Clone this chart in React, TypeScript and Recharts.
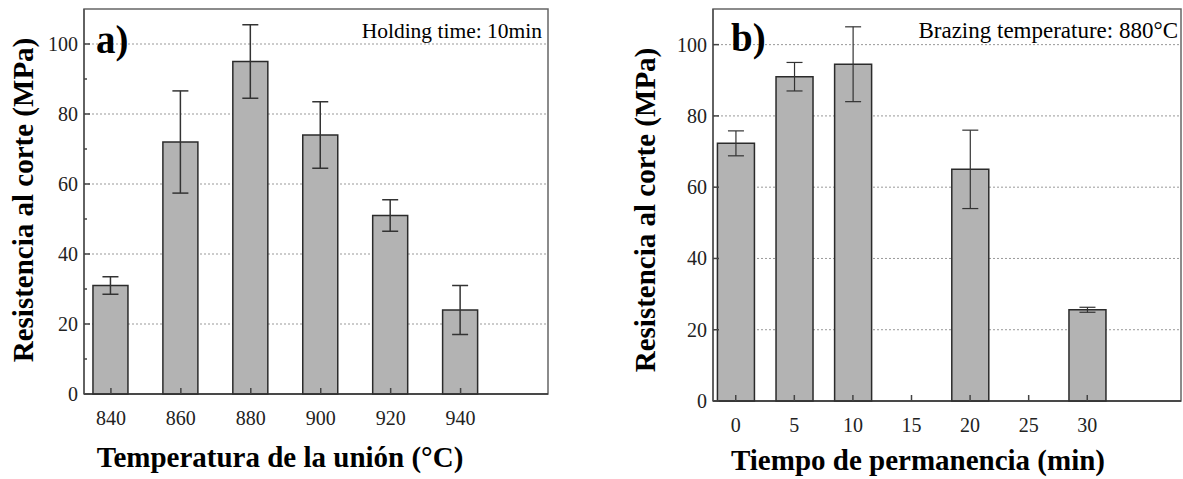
import { BarChart, Bar, XAxis, YAxis, CartesianGrid, ErrorBar, ReferenceArea } from "recharts";

// a) joint temperature
const tempCategories = [840, 860, 880, 900, 920, 940];
const tempStrength = [31, 72, 95, 74, 51, 24];
const tempError = [2.5, 14.6, 10.5, 9.5, 4.5, 7];

// b) holding time
const timeCategories = [0, 5, 10, 20, 30];
const timeStrength = [72.3, 91, 94.5, 65, 25.6];
const timeError = [3.5, 4, 10.5, 11, 0.7];

const tempTicks = [840, 860, 880, 900, 920, 940];
const timeTicks = [0, 5, 10, 15, 20, 25, 30];
const yTicksA = [0, 10, 20, 30, 40, 50, 60, 70, 80, 90, 100];
const yTicksB = [0, 20, 40, 60, 80, 100];
const gridValues = [20, 40, 60, 80, 100];

const tempData = tempCategories.map((t, i) => ({ x: t, value: tempStrength[i], err: tempError[i] }));
const timeData = timeCategories.map((t, i) => ({ x: t, value: timeStrength[i], err: timeError[i] }));

const SERIF = '"Liberation Serif", "Times New Roman", serif';
const Y_DOMAIN = [0, 110];
const TEMP_DOMAIN = [832.3, 965];
const TIME_DOMAIN = [-1.94, 38];

const YTick = (props: any) => {
    const { x, y, payload } = props;
    const major = payload.value % 20 === 0;
    return (
        <g>
            <line x1={x} x2={x + (major ? 6 : 3)} y1={y} y2={y} stroke="#444" strokeWidth={1.5} />
            {major && (
                <text x={x - 6} y={y} dy="0.35em" textAnchor="end" fontFamily={SERIF} fontSize={20} fill="#222">
                    {payload.value}
                </text>
            )}
        </g>
    );
};

const XTick = (props: any) => {
    const { x, y, payload } = props;
    return (
        <g>
            <line x1={x} x2={x} y1={y} y2={y - 6} stroke="#444" strokeWidth={1.5} />
            <text x={x} y={y + 24} dy="0.35em" textAnchor="middle" fontFamily={SERIF} fontSize={20} fill="#222">
                {payload.value}
            </text>
        </g>
    );
};

const abs = (left: number, top: number, extra: any = {}) => ({
    position: "absolute" as const,
    left,
    top,
    whiteSpace: "nowrap" as const,
    fontFamily: SERIF,
    color: "#000",
    ...extra,
});

export default function App() {
    return (
        <div style={{ position: "absolute", left: 0, top: 0, width: 1183, height: 479, background: "#fff" }}>
            <div style={{ position: "absolute", left: 0, top: 0 }}>
                <BarChart width={565} height={479} data={tempData} margin={{ top: 9, right: 17, left: 0, bottom: 55 }}>
                    <CartesianGrid vertical={false} horizontalValues={gridValues} stroke="#999" strokeDasharray="2 2" />
                    <XAxis
                        dataKey="x"
                        type="number"
                        domain={TEMP_DOMAIN}
                        ticks={tempTicks}
                        allowDataOverflow
                        height={30}
                        tickSize={0}
                        tickMargin={0}
                        interval={0}
                        tick={<XTick />}
                        axisLine={{ stroke: "#333", strokeWidth: 1.5 }}
                    />
                    <YAxis
                        domain={Y_DOMAIN}
                        ticks={yTicksA}
                        width={84}
                        tickSize={0}
                        tickMargin={0}
                        interval={0}
                        tick={<YTick />}
                        axisLine={{ stroke: "#555", strokeWidth: 1.5 }}
                    />
                    <ReferenceArea x1={TEMP_DOMAIN[0]} x2={TEMP_DOMAIN[1]} y1={0} y2={110} fill="none" stroke="#666" strokeWidth={1.5} />
                    <Bar dataKey="value" fill="#b3b3b3" stroke="#2b2b2b" strokeWidth={1.5} barSize={35} isAnimationActive={false}>
                        <ErrorBar dataKey="err" width={8} stroke="#333" strokeWidth={1.5} />
                    </Bar>
                </BarChart>
            </div>
            <div style={{ position: "absolute", left: 600, top: 0 }}>
                <BarChart width={583} height={479} data={timeData} margin={{ top: 9, right: 2, left: 0, bottom: 48 }}>
                    <CartesianGrid vertical={false} horizontalValues={gridValues} stroke="#999" strokeDasharray="2 2" />
                    <XAxis
                        dataKey="x"
                        type="number"
                        domain={TIME_DOMAIN}
                        ticks={timeTicks}
                        allowDataOverflow
                        height={30}
                        tickSize={0}
                        tickMargin={0}
                        interval={0}
                        tick={<XTick />}
                        axisLine={{ stroke: "#333", strokeWidth: 1.5 }}
                    />
                    <YAxis
                        domain={Y_DOMAIN}
                        ticks={yTicksB}
                        width={113}
                        tickSize={0}
                        tickMargin={0}
                        interval={0}
                        tick={<YTick />}
                        axisLine={{ stroke: "#555", strokeWidth: 1.5 }}
                    />
                    <ReferenceArea x1={TIME_DOMAIN[0]} x2={TIME_DOMAIN[1]} y1={0} y2={110} fill="none" stroke="#666" strokeWidth={1.5} />
                    <Bar dataKey="value" fill="#b3b3b3" stroke="#2b2b2b" strokeWidth={1.5} barSize={37} isAnimationActive={false}>
                        <ErrorBar dataKey="err" width={8} stroke="#333" strokeWidth={1.2} />
                    </Bar>
                </BarChart>
            </div>

            {/* panel a texts */}
            <div style={abs(23, 200, { transform: "translate(-50%, -50%) rotate(-90deg)", fontSize: 29, fontWeight: "bold" })}>
                Resistencia al corte (MPa)
            </div>
            <div style={abs(280, 457, { transform: "translate(-50%, -50%)", fontSize: 29, fontWeight: "bold" })}>
                Temperatura de la unión (°C)
            </div>
            <div style={abs(96, 18, { fontSize: 39, fontWeight: "bold", lineHeight: "44px" })}>a)</div>
            <div style={abs(542, 31, { transform: "translate(-100%, -50%)", fontSize: 21.5 })}>Holding time: 10min</div>

            {/* panel b texts */}
            <div style={abs(645, 210, { transform: "translate(-50%, -50%) rotate(-90deg)", fontSize: 29, fontWeight: "bold" })}>
                Resistencia al corte (MPa)
            </div>
            <div style={abs(918, 460, { transform: "translate(-50%, -50%)", fontSize: 29, fontWeight: "bold" })}>
                Tiempo de permanencia (min)
            </div>
            <div style={abs(731, 16, { fontSize: 39, fontWeight: "bold", lineHeight: "44px" })}>b)</div>
            <div style={abs(1178, 31, { transform: "translate(-100%, -50%)", fontSize: 23 })}>Brazing temperature: 880°C</div>
        </div>
    );
}
